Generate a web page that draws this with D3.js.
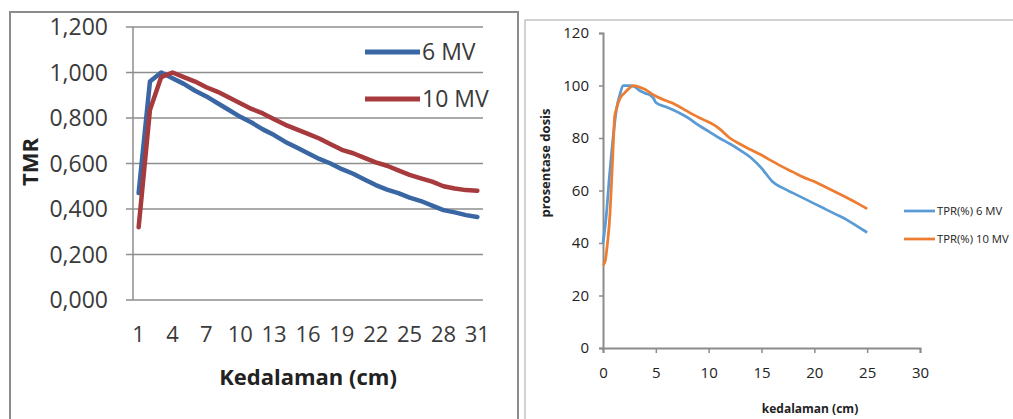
<!DOCTYPE html>
<html><head><meta charset="utf-8">
<script src="https://cdn.jsdelivr.net/npm/d3@7/dist/d3.min.js"></script>
<style>html,body{margin:0;padding:0;background:#fff;}svg{display:block;}</style>
</head><body>
<svg id="c" width="1013" height="419"></svg>
<script>
// ---------- Left chart data (TMR) ----------
const tmrDepths = d3.range(1, 32);
const tmr6MV = [0.47,0.96,1.0,0.975,0.95,0.92,0.895,0.865,0.835,0.805,0.78,0.75,0.725,0.695,0.67,0.645,0.62,0.60,0.575,0.555,0.53,0.505,0.485,0.47,0.45,0.435,0.415,0.395,0.385,0.373,0.365];
const tmr10MV = [0.32,0.835,0.98,1.0,0.98,0.96,0.935,0.915,0.89,0.865,0.84,0.82,0.795,0.77,0.75,0.73,0.71,0.685,0.66,0.645,0.625,0.605,0.59,0.57,0.55,0.535,0.52,0.50,0.49,0.483,0.48];
const tmrYTicks = [0,0.2,0.4,0.6,0.8,1.0,1.2];
const tmrYLabels = ["0,000","0,200","0,400","0,600","0,800","1,000","1,200"];
const tmrXLabels = [1,4,7,10,13,16,19,22,25,28,31];
const tmrSeriesNames = ["6 MV","10 MV"];

// ---------- Right chart data (TPR %) ----------
const tpr6Depth = [0,0.3,0.6,0.8,1.0,1.3,1.6,1.9,2.5,3.0,3.5,4.0,4.5,4.8,5.0,6,7,8,9,10,11,12,13,14,15,15.5,16,17,18,19,20,21,22,23,24,25];
const tpr6MV    = [40,50,65,74,82,91.5,96.5,100,100,99.5,98,97,96.2,95,93.5,91.8,90,87.8,85,82.5,80,77.8,75.3,72.5,68.5,66,63.5,61,59,57,55,53,51,49,46.5,44];
const tpr10Depth = [0,0.2,0.4,0.66,0.82,1.0,1.1,1.3,1.6,2.0,2.5,2.85,3.5,4.0,4.75,5.5,6.5,7.5,8.5,9.5,10.5,11,12,13,14,15,16,17,18,19,20,21,22,23,24,25];
const tpr10MV    = [31.5,33,39,51,64,80,88,91.5,95,97,99,100,99.3,98.5,96.5,95,93.4,91.3,89,87,85,83.6,80,77.6,75.5,73.5,71.2,69,67,65,63.4,61.4,59.4,57.4,55.3,53];
const tprYTicks = [0,20,40,60,80,100,120];
const tprXTicks = [0,5,10,15,20,25,30];
const tprSeriesNames = ["TPR(%) 6 MV","TPR(%) 10 MV"];

const svg = d3.select("#c");
const FONT = "'Open Sans', 'DejaVu Sans', sans-serif";

// ================= LEFT CHART =================
const L = svg.append("g");
L.append("rect").attr("x",10).attr("y",12).attr("width",508).attr("height",420)
  .attr("fill","none").attr("stroke","#8c8c8c").attr("stroke-width",2);

const lx = d3.scaleBand().domain(tmrDepths).range([133,483]);
const lxc = d => lx(d) + lx.bandwidth()/2;
const ly = d3.scaleLinear().domain([0,1.2]).range([300,27]);
const gridCol = "#8e8e8e";

tmrYTicks.forEach((t,i)=>{
  L.append("line").attr("x1",126).attr("x2",483).attr("y1",ly(t)).attr("y2",ly(t))
    .attr("stroke",gridCol).attr("stroke-width",1.5);
  L.append("text").attr("x",108).attr("y",ly(t)).attr("dy","0.36em")
    .attr("text-anchor","end").attr("font-family",FONT).attr("font-size",23)
    .attr("fill","#3a3a3a").text(tmrYLabels[i]);
});
L.append("line").attr("x1",133).attr("x2",133).attr("y1",ly(1.2)).attr("y2",ly(0))
  .attr("stroke",gridCol).attr("stroke-width",1.5);

tmrXLabels.forEach(d=>{
  L.append("text").attr("x",lxc(d)).attr("y",334).attr("dy","0.36em")
    .attr("text-anchor","middle").attr("font-family",FONT).attr("font-size",22)
    .attr("fill","#3a3a3a").text(d);
});
L.append("text").attr("x",308).attr("y",377).attr("dy","0.36em").attr("text-anchor","middle")
  .attr("font-family",FONT).attr("font-size",22).attr("font-weight","bold").attr("fill","#222")
  .text("Kedalaman (cm)");
L.append("text").attr("transform","translate(30,162) rotate(-90)").attr("dy","0.36em")
  .attr("text-anchor","middle").attr("font-family",FONT).attr("font-size",22)
  .attr("font-weight","bold").attr("fill","#222").text("TMR");

const lColors = ["#3a67a3","#a73a3c"];
const lLine = d3.line().x((d,i)=>lxc(tmrDepths[i])).y(d=>ly(d));
[tmr6MV, tmr10MV].forEach((s,k)=>{
  L.append("path").attr("d",lLine(s)).attr("fill","none").attr("stroke",lColors[k])
    .attr("stroke-width",4.5).attr("stroke-linejoin","round").attr("stroke-linecap","round");
});
[52,99].forEach((yy,k)=>{
  L.append("line").attr("x1",365).attr("x2",420).attr("y1",yy).attr("y2",yy)
    .attr("stroke",lColors[k]).attr("stroke-width",5);
  L.append("text").attr("x",422).attr("y",yy).attr("dy","0.36em").attr("font-family",FONT)
    .attr("font-size",23).attr("fill","#3a3a3a").text(tmrSeriesNames[k]);
});

// ================= RIGHT CHART =================
const R = svg.append("g");
R.append("rect").attr("x",525).attr("y",20).attr("width",520).attr("height",420)
  .attr("fill","none").attr("stroke","#c4c4c4").attr("stroke-width",1.5);

const rx = d3.scaleLinear().domain([0,30]).range([603,920]);
const ry = d3.scaleLinear().domain([0,120]).range([348,33]);
const axCol = "#8c8c8c";

const yAxis = d3.axisLeft(ry).tickValues(tprYTicks).tickSize(4).tickPadding(10);
const xAxis = d3.axisBottom(rx).tickValues(tprXTicks).tickSize(5).tickPadding(14);
const gy = R.append("g").attr("transform","translate(603,0)").call(yAxis);
const gx = R.append("g").attr("transform","translate(0,348)").call(xAxis);
[gy,gx].forEach(g=>{
  g.select(".domain").attr("stroke",axCol).attr("stroke-width",2);
  g.selectAll(".tick line").attr("stroke",axCol).attr("stroke-width",1.5);
  g.selectAll(".tick text").attr("font-family",FONT).attr("font-size",15).attr("fill","#222");
});

R.append("text").attr("x",810).attr("y",409).attr("dy","0.36em").attr("text-anchor","middle")
  .attr("font-family",FONT).attr("font-size",12).attr("font-weight","bold").attr("fill","#222")
  .text("kedalaman (cm)");
R.append("text").attr("transform","translate(545,163) rotate(-90)").attr("dy","0.36em")
  .attr("text-anchor","middle").attr("font-family",FONT).attr("font-size",13)
  .attr("font-weight","bold").attr("fill","#222").text("prosentase dosis");

const rColors = ["#5b9bd5","#ed7d31"];
const rLine = d3.line().curve(d3.curveMonotoneX).x(d=>rx(d[0])).y(d=>ry(d[1]));
[[tpr6Depth,tpr6MV],[tpr10Depth,tpr10MV]].forEach(([xs,ys],k)=>{
  R.append("path").attr("d",rLine(xs.map((x,i)=>[x,ys[i]]))).attr("fill","none")
    .attr("stroke",rColors[k]).attr("stroke-width",2.75).attr("stroke-linejoin","round");
});
[211,239].forEach((yy,k)=>{
  R.append("line").attr("x1",904).attr("x2",935).attr("y1",yy).attr("y2",yy)
    .attr("stroke",rColors[k]).attr("stroke-width",2.75);
  R.append("text").attr("x",937).attr("y",yy).attr("dy","0.36em").attr("font-family",FONT)
    .attr("font-size",11.3).attr("fill","#222").text(tprSeriesNames[k]);
});
</script>
</body></html>
